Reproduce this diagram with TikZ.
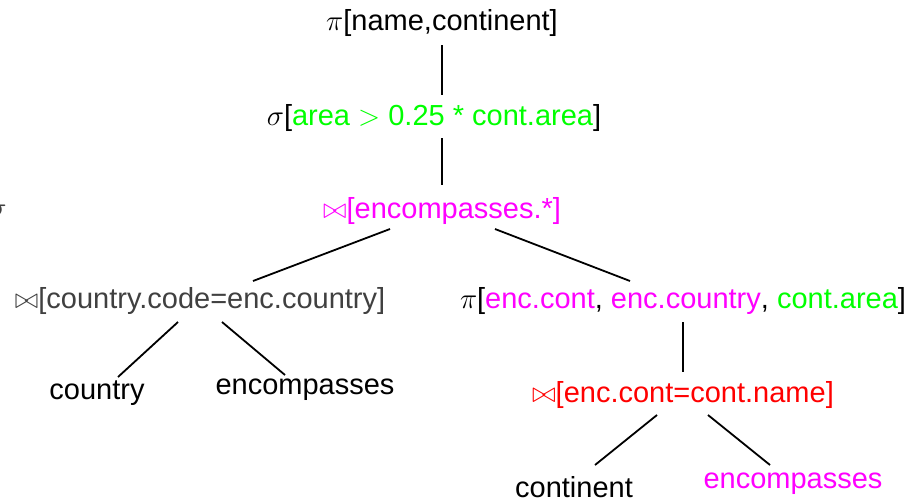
\RequirePackage{fix-cm}
\documentclass[tikz,border=0pt]{standalone}
\usepackage{fontspec}
\setmainfont{Liberation Sans}
\usetikzlibrary{calc}
\definecolor{mag}{RGB}{255,0,255}
\definecolor{grn}{RGB}{0,255,0}
\definecolor{rd}{RGB}{255,0,0}
\definecolor{dg}{RGB}{64,64,64}
\begin{document}
\begin{tikzpicture}[x=1pt,y=-1pt,
  every node/.style={inner sep=0pt, font=\fontsize{29}{34}\selectfont},
  edge/.style={line width=1.8pt, black}]
\useasboundingbox (0,0) rectangle (924,499);
\node (p1) at (442,23) {$\pi$[name,continent]};
\node (s1) at (434,118) {$\sigma$[\textcolor{grn}{area $>$ 0.25 * cont.area}]};
\node[text=mag] (enc) at (442,211) {$\bowtie$[encompasses.*]};
\node[text=dg] (cj) at (200,301) {$\bowtie$[country.code=enc.country]};
\node (pj) at (683,301) {$\pi$[\textcolor{mag}{enc.cont}, \textcolor{mag}{enc.country}, \textcolor{grn}{cont.area}]};
\node (ctry) at (97,393) {country};
\node (enc1) at (305,390) {encompasses};
\node[text=rd] (rj) at (683,395) {$\bowtie$[enc.cont=cont.name]};
\node (cont) at (574,487) {continent};
\node[text=mag] (enc2) at (793,484) {encompasses};
\node[text=dg] (frag) at (-2,211) {$\sigma$};
\draw[edge] ($(p1)+(0,22)$) -- ($(s1)+(8,-23)$);
\draw[edge] ($(s1)+(8,20)$) -- ($(enc)+(0,-26)$);
\draw[edge] ($(enc)+(-52,18)$) -- ($(cj)+(53,-20)$);
\draw[edge] ($(enc)+(53,18)$) -- ($(pj)+(-53,-20)$);
\draw[edge] ($(cj)+(-22,21)$) -- ($(ctry)+(21,-16)$);
\draw[edge] ($(cj)+(22,21)$) -- ($(enc1)+(-20,-15)$);
\draw[edge] ($(pj)+(0,21)$) -- ($(rj)+(0,-23)$);
\draw[edge] ($(rj)+(-26,20)$) -- ($(cont)+(21,-22)$);
\draw[edge] ($(rj)+(25,20)$) -- ($(enc2)+(-23,-19)$);
\end{tikzpicture}
\end{document}
